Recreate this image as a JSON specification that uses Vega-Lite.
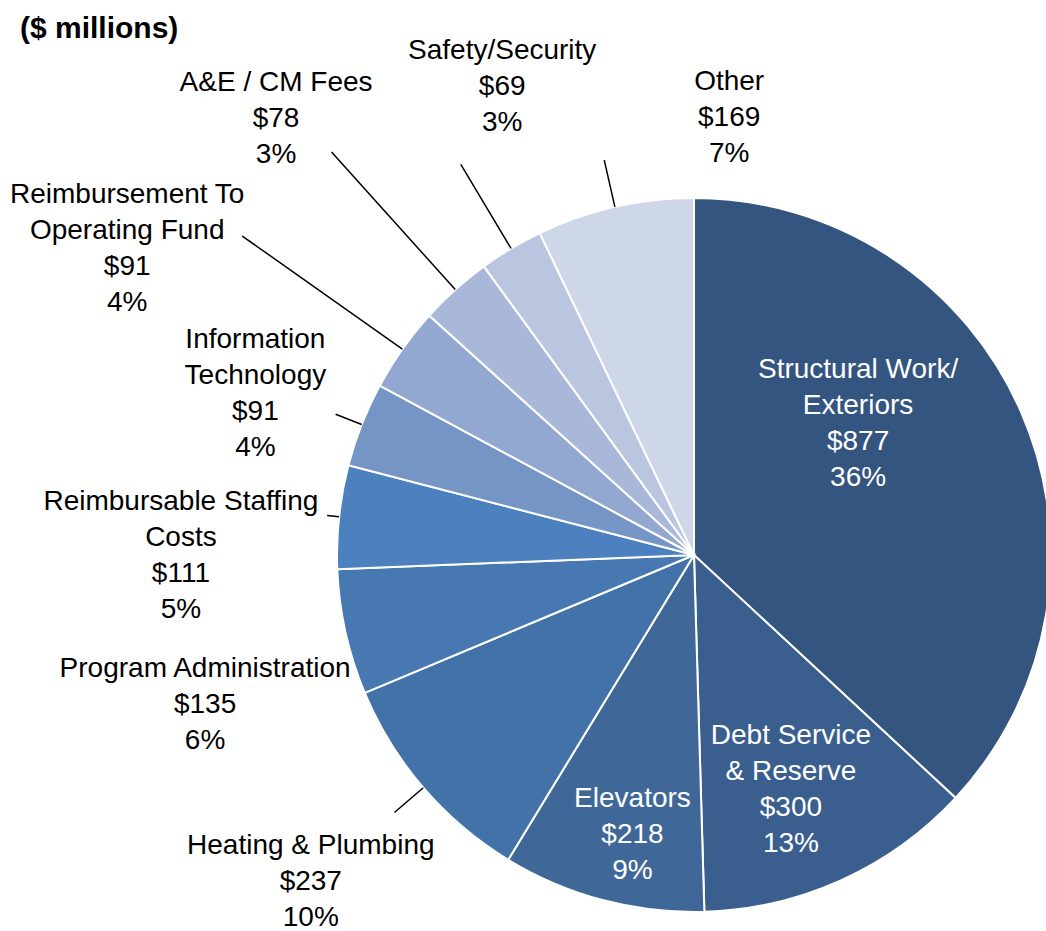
{
  "$schema": "https://vega.github.io/schema/vega-lite/v6.json",
  "autosize": {"type": "none"},
  "padding": {"left": 342, "top": 179, "right": 0, "bottom": 0},
  "width": 704,
  "height": 752,
  "background": "white",
  "title": {"text": "($ millions)", "anchor": "start", "frame": "group", "dx": -322, "offset": -31, "baseline": "alphabetic", "font": "Liberation Sans", "fontSize": 30, "fontWeight": "bold", "color": "black"},
  "config": {"view": {"stroke": null}, "text": {"font": "Liberation Sans", "fontSize": 28, "lineHeight": 36, "lineBreak": "\n", "align": "center", "baseline": "middle"}},
  "data": {"values": [
    {"name": "Structural Work/\nExteriors", "value": 877, "pct": 36},
    {"name": "Debt Service\n& Reserve", "value": 300, "pct": 13},
    {"name": "Elevators", "value": 218, "pct": 9},
    {"name": "Heating & Plumbing", "value": 237, "pct": 10},
    {"name": "Program Administration", "value": 135, "pct": 6},
    {"name": "Reimbursable Staffing\nCosts", "value": 111, "pct": 5},
    {"name": "Information\nTechnology", "value": 91, "pct": 4},
    {"name": "Reimbursement To\nOperating Fund", "value": 91, "pct": 4},
    {"name": "A&E / CM Fees", "value": 78, "pct": 3},
    {"name": "Safety/Security", "value": 69, "pct": 3},
    {"name": "Other", "value": 169, "pct": 7}
  ]},
  "transform": [
    {"stack": "value", "groupby": [], "as": ["s", "e"]},
    {"calculate": "(datum.s + datum.e) / 2", "as": "m"},
    {"calculate": "datum.name + '\\n$' + datum.value + '\\n' + datum.pct + '%'", "as": "txt"}
  ],
  "layer": [
    {
      "mark": {"type": "arc", "outerRadius": 357, "stroke": "white", "strokeWidth": 2},
      "encoding": {
        "theta": {"field": "e", "type": "quantitative", "stack": null},
        "theta2": {"field": "s"},
        "color": {"field": "name", "type": "nominal", "legend": null, "sort": null,
          "scale": {"domain": ["Structural Work/\nExteriors", "Debt Service\n& Reserve", "Elevators", "Heating & Plumbing", "Program Administration", "Reimbursable Staffing\nCosts", "Information\nTechnology", "Reimbursement To\nOperating Fund", "A&E / CM Fees", "Safety/Security", "Other"],
            "range": ["#34557f", "#3a5f8e", "#3f6898", "#4372a8", "#4778b1", "#4c80be", "#7595c5", "#93a8d0", "#a9b7d9", "#bac6e0", "#ced7e7"]}}
      }
    },
    {"transform": [{"filter": "datum.name == 'Other'"}], "mark": {"type": "arc", "innerRadius": 357, "outerRadius": 405, "stroke": "black", "strokeWidth": 1.5, "fillOpacity": 0}, "encoding": {"theta": {"field": "m", "type": "quantitative", "stack": null}, "theta2": {"field": "m"}}},
    {"transform": [{"filter": "datum.name == 'Safety/Security'"}], "mark": {"type": "arc", "innerRadius": 357, "outerRadius": 455, "stroke": "black", "strokeWidth": 1.5, "fillOpacity": 0}, "encoding": {"theta": {"field": "m", "type": "quantitative", "stack": null}, "theta2": {"field": "m"}}},
    {"transform": [{"filter": "datum.name == 'A&E / CM Fees'"}], "mark": {"type": "arc", "innerRadius": 357, "outerRadius": 542, "stroke": "black", "strokeWidth": 1.5, "fillOpacity": 0}, "encoding": {"theta": {"field": "m", "type": "quantitative", "stack": null}, "theta2": {"field": "m"}}},
    {"transform": [{"filter": "datum.name == 'Reimbursement To\\nOperating Fund'"}], "mark": {"type": "arc", "innerRadius": 357, "outerRadius": 553, "stroke": "black", "strokeWidth": 1.5, "fillOpacity": 0}, "encoding": {"theta": {"field": "m", "type": "quantitative", "stack": null}, "theta2": {"field": "m"}}},
    {"transform": [{"filter": "datum.name == 'Information\\nTechnology'"}], "mark": {"type": "arc", "innerRadius": 357, "outerRadius": 385, "stroke": "black", "strokeWidth": 1.5, "fillOpacity": 0}, "encoding": {"theta": {"field": "m", "type": "quantitative", "stack": null}, "theta2": {"field": "m"}}},
    {"transform": [{"filter": "datum.name == 'Reimbursable Staffing\\nCosts'"}], "mark": {"type": "arc", "innerRadius": 357, "outerRadius": 369, "stroke": "black", "strokeWidth": 1.5, "fillOpacity": 0}, "encoding": {"theta": {"field": "m", "type": "quantitative", "stack": null}, "theta2": {"field": "m"}}},
    {"transform": [{"filter": "datum.name == 'Heating & Plumbing'"}], "mark": {"type": "arc", "innerRadius": 357, "outerRadius": 395, "stroke": "black", "strokeWidth": 1.5, "fillOpacity": 0}, "encoding": {"theta": {"field": "m", "type": "quantitative", "stack": null}, "theta2": {"field": "m"}}},
    {"transform": [{"filter": "datum.value == 877"}], "mark": {"type": "text", "radius": 203, "dx": -22, "dy": -104, "color": "white"}, "encoding": {"theta": {"field": "m", "type": "quantitative", "stack": null}, "text": {"field": "txt"}}},
    {"transform": [{"filter": "datum.value == 300"}], "mark": {"type": "text", "radius": 254, "dx": -8, "dy": -50, "color": "white"}, "encoding": {"theta": {"field": "m", "type": "quantitative", "stack": null}, "text": {"field": "txt"}}},
    {"transform": [{"filter": "datum.value == 218"}], "mark": {"type": "text", "radius": 287, "dx": 12, "dy": -33, "color": "white"}, "encoding": {"theta": {"field": "m", "type": "quantitative", "stack": null}, "text": {"field": "txt"}}},
    {"transform": [{"filter": "datum.value == 237"}], "mark": {"type": "text", "radius": 504, "dx": -1, "dy": -38, "color": "black"}, "encoding": {"theta": {"field": "m", "type": "quantitative", "stack": null}, "text": {"field": "txt"}}},
    {"transform": [{"filter": "datum.value == 135"}], "mark": {"type": "text", "radius": 510, "dx": 9, "dy": 4, "color": "black"}, "encoding": {"theta": {"field": "m", "type": "quantitative", "stack": null}, "text": {"field": "txt"}}},
    {"transform": [{"filter": "datum.value == 111"}], "mark": {"type": "text", "radius": 510, "dx": -6, "dy": 2, "color": "black"}, "encoding": {"theta": {"field": "m", "type": "quantitative", "stack": null}, "text": {"field": "txt"}}},
    {"transform": [{"filter": "datum.name == 'Information\\nTechnology'"}], "mark": {"type": "text", "radius": 468, "dx": -3, "dy": -44, "color": "black"}, "encoding": {"theta": {"field": "m", "type": "quantitative", "stack": null}, "text": {"field": "txt"}}},
    {"transform": [{"filter": "datum.name == 'Reimbursement To\\nOperating Fund'"}], "mark": {"type": "text", "radius": 640, "dx": -44, "dy": 9, "color": "black"}, "encoding": {"theta": {"field": "m", "type": "quantitative", "stack": null}, "text": {"field": "txt"}}},
    {"transform": [{"filter": "datum.value == 78"}], "mark": {"type": "text", "radius": 604, "dx": -14, "dy": -23, "color": "black"}, "encoding": {"theta": {"field": "m", "type": "quantitative", "stack": null}, "text": {"field": "txt"}}},
    {"transform": [{"filter": "datum.value == 69"}], "mark": {"type": "text", "radius": 501, "dx": 65, "dy": -74, "color": "black"}, "encoding": {"theta": {"field": "m", "type": "quantitative", "stack": null}, "text": {"field": "txt"}}},
    {"transform": [{"filter": "datum.value == 169"}], "mark": {"type": "text", "radius": 419, "dx": 128, "dy": -64, "color": "black"}, "encoding": {"theta": {"field": "m", "type": "quantitative", "stack": null}, "text": {"field": "txt"}}}
  ]
}
